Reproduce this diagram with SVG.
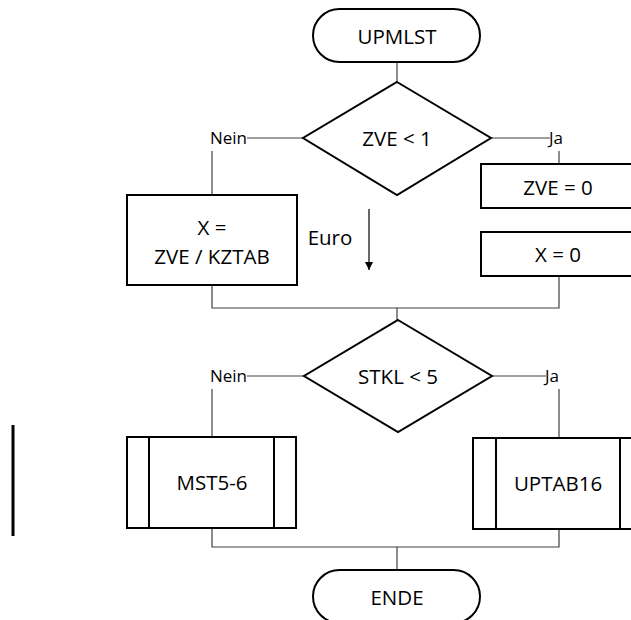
<svg xmlns="http://www.w3.org/2000/svg" width="631" height="620" viewBox="0 0 631 620">
<defs>
<style>
.s{fill:#fff;stroke:#000;stroke-width:2}
.c{fill:none;stroke:#404040;stroke-width:1.2}
.t{font-family:"Open Sans","Liberation Sans",sans-serif;font-size:20.5px;fill:#000;text-anchor:middle;dominant-baseline:central}
.l{font-family:"Open Sans","Liberation Sans",sans-serif;font-size:17px;fill:#000;dominant-baseline:central}
</style>
<marker id="ah" markerWidth="10" markerHeight="10" refX="8" refY="5" orient="auto" markerUnits="userSpaceOnUse">
<path d="M0,1 L8,5 L0,9 Z" fill="#000"/>
</marker>
</defs>
<g id="connectors">
<path class="c" d="M397,62 V82"/>
<path class="c" d="M303,138 H247"/>
<path class="c" d="M212,151 V195"/>
<path class="c" d="M491,138 H550"/>
<path class="c" d="M559,151 V164"/>
<path class="c" d="M212,285 V308 H559 V276"/>
<path class="c" d="M397,308 V320"/>
<path class="c" d="M304,376 H247"/>
<path class="c" d="M212,389 V437"/>
<path class="c" d="M492,376 H546"/>
<path class="c" d="M559,389 V438"/>
<path class="c" d="M212,528 V547 H559 V529"/>
<path class="c" d="M397,547 V570"/>
<path d="M369,209 V270" stroke="#000" stroke-width="1.2" marker-end="url(#ah)"/>
<text class="l" x="247" y="137" text-anchor="end">Nein</text>
<text class="l" x="549" y="137">Ja</text>
<text class="l" x="247" y="375" text-anchor="end">Nein</text>
<text class="l" x="545" y="375">Ja</text>
<text class="t" x="330" y="237">Euro</text>
</g>
<g id="upmlst"><rect class="s" x="313" y="9" width="167" height="53" rx="26.5"/><text class="t" x="397" y="36">UPMLST</text></g>
<g id="d1"><polygon class="s" points="397,82 491,138 397,195 303,138"/><text class="t" x="397" y="138">ZVE &lt; 1</text></g>
<g id="zve0"><rect class="s" x="481" y="164" width="160" height="44"/><text class="t" x="558" y="187">ZVE = 0</text></g>
<g id="x0"><rect class="s" x="481" y="232" width="160" height="44"/><text class="t" x="558" y="254">X = 0</text></g>
<g id="xzve"><rect class="s" x="127" y="195" width="170" height="90"/><text class="t" x="212" y="227">X =</text><text class="t" x="212" y="256">ZVE / KZTAB</text></g>
<g id="d2"><polygon class="s" points="398,320 492,376 398,432 304,376"/><text class="t" x="398" y="376">STKL &lt; 5</text></g>
<g id="mst"><rect class="s" x="127" y="437" width="169" height="91"/><path class="s" d="M149,437 V528 M274,437 V528"/><text class="t" x="212" y="482">MST5-6</text></g>
<g id="uptab"><rect class="s" x="473" y="438" width="170" height="91"/><path class="s" d="M496,438 V529 M620,438 V529"/><text class="t" x="558" y="483">UPTAB16</text></g>
<g id="ende"><rect class="s" x="313" y="570" width="167" height="53" rx="26.5"/><text class="t" x="397" y="597">ENDE</text></g>
<path d="M13,425 V536" stroke="#000" stroke-width="3"/>
</svg>
